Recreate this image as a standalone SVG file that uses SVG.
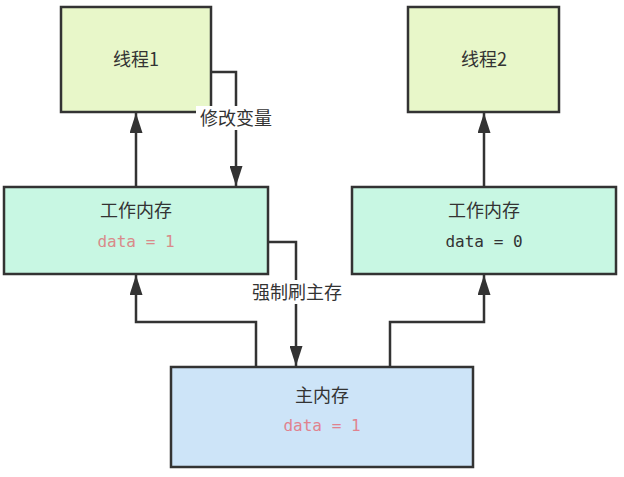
<svg xmlns="http://www.w3.org/2000/svg" width="624" height="477" viewBox="0 0 624 477">
<style>
.box{stroke:#333;stroke-width:2.5}
.t{font-family:"Noto Sans CJK SC","Liberation Sans",sans-serif;font-size:18px;fill:#333;text-anchor:middle}
.d{font-family:"DejaVu Sans Mono","Liberation Mono",monospace;font-size:16px;text-anchor:middle}
.c{fill:none;stroke:#333;stroke-width:2.5}
.lbl{font-family:"Noto Sans CJK SC","Liberation Sans",sans-serif;font-size:18px;fill:#333;text-anchor:middle}
</style>
<defs>
<marker id="ah" markerWidth="20" markerHeight="13" refX="20" refY="6.5" orient="auto" markerUnits="userSpaceOnUse" viewBox="0 0 20 13">
<path d="M0,0 L20,6.5 L0,13 Z" fill="#333"/>
</marker>
</defs>
<rect width="624" height="477" fill="#fff"/>
<g id="thread1"><rect class="box" x="61" y="7" width="150" height="105" fill="#e8f7c9"/><text class="t" x="136" y="66">线程1</text></g>
<g id="thread2"><rect class="box" x="408" y="7" width="151" height="105" fill="#e8f7c9"/><text class="t" x="484" y="66">线程2</text></g>
<g id="work1"><rect class="box" x="4" y="187" width="264" height="87" fill="#c8f7e3"/><text class="t" x="136" y="217">工作内存</text><text class="d" x="136" y="247" fill="#d98a8a">data = 1</text></g>
<g id="work2"><rect class="box" x="352" y="187" width="264" height="87" fill="#c8f7e3"/><text class="t" x="484" y="217">工作内存</text><text class="d" x="484" y="247" fill="#333">data = 0</text></g>
<g id="main"><rect class="box" x="171" y="367" width="302" height="100" fill="#cde4f8"/><text class="t" x="322" y="402">主内存</text><text class="d" x="322" y="431" fill="#e0828f">data = 1</text></g>
<g id="connectors">
<path class="c" d="M136,187 L136,113" marker-end="url(#ah)"/>
<path class="c" d="M211,72 L236,72 L236,186" marker-end="url(#ah)"/>
<path class="c" d="M484,187 L484,113" marker-end="url(#ah)"/>
<path class="c" d="M268,242 L296,242 L296,366" marker-end="url(#ah)"/>
<path class="c" d="M256,367 L256,322 L136,322 L136,275" marker-end="url(#ah)"/>
<path class="c" d="M390,367 L390,322 L484,322 L484,275" marker-end="url(#ah)"/>
<rect x="196" y="106" width="80" height="24" fill="#fff"/>
<text class="lbl" x="236" y="125">修改变量</text>
<rect x="247" y="280" width="100" height="24" fill="#fff"/>
<text class="lbl" x="297" y="299">强制刷主存</text>
</g>
</svg>
